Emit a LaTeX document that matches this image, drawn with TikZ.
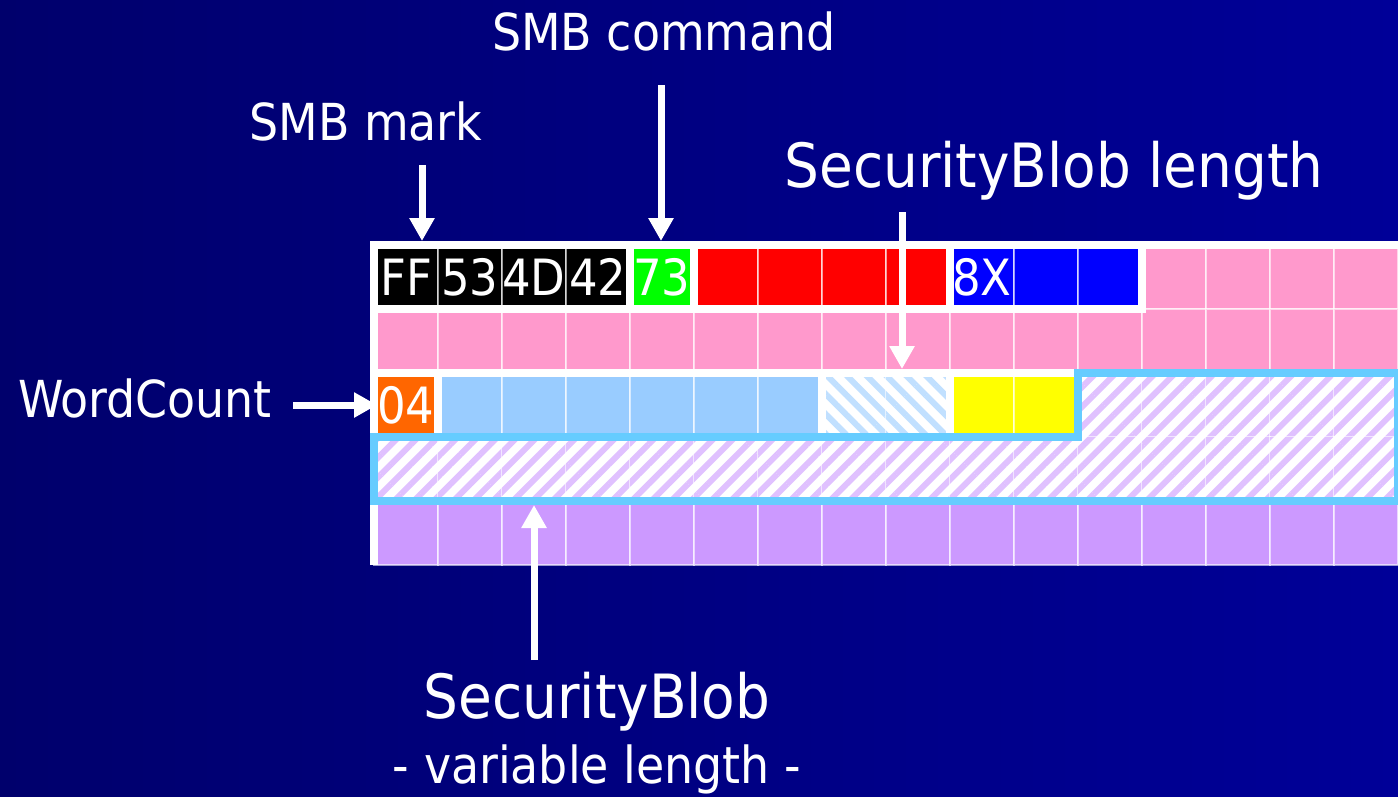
\documentclass[tikz,border=0pt]{standalone}
\usepackage{fontspec}
\IfFontExistsTF{DejaVu Sans Condensed}{\setmainfont{DejaVu Sans Condensed}}{\setmainfont{DejaVu Sans}[FakeStretch=0.9]}
\usetikzlibrary{positioning, arrows.meta, patterns.meta}

\definecolor{bgleft}{RGB}{0,0,108}
\definecolor{bgright}{RGB}{0,0,152}
\definecolor{cmdgreen}{RGB}{0,255,0}
\definecolor{fieldred}{RGB}{255,0,0}
\definecolor{fieldblue}{RGB}{0,0,255}
\definecolor{hdrpink}{RGB}{255,153,204}
\definecolor{wcorange}{RGB}{255,102,0}
\definecolor{paramblue}{RGB}{153,204,255}
\definecolor{paramyellow}{RGB}{255,255,0}
\definecolor{blobpurple}{RGB}{204,153,255}
\definecolor{blobedge}{RGB}{102,204,255}

\begin{document}
\begin{tikzpicture}[x=1pt, y=-1pt,
        cell/.style={draw=white, draw opacity=0.6, line width=1.2pt},
        hatchfwd/.style={fill=white, postaction={pattern={Lines[angle=45, distance=14pt, line width=6pt]}, pattern color=blobpurple}},
        hatchbwd/.style={fill=white, postaction={pattern={Lines[angle=-45, distance=14pt, line width=6pt]}, pattern color=paramblue}},
        field/.style={draw=white, line width=8pt},
        blobfield/.style={draw=blobedge, line width=8pt},
        hexbyte/.style={text=white, inner sep=0pt, font=\fontsize{50}{50}\selectfont},
        callout/.style={text=white, anchor=base, inner sep=0pt},
        pointer/.style={draw=white, line width=7pt, -{Triangle[length=23pt, width=24pt]}}
    ]
        \useasboundingbox (0,0) rectangle (1398,796);
        \clip (0,0) rectangle (1398,796);
        \shade[left color=bgleft, right color=bgright] (0,0) rectangle (1398,796);

        % packet cells, 16 per row
        \foreach \r/\from/\to/\kind in {0/0/3/black, 0/4/4/cmdgreen, 0/5/8/fieldred, 0/9/11/fieldblue,
                0/12/15/hdrpink, 1/0/15/hdrpink, 2/0/0/wcorange, 2/1/6/paramblue, 2/9/10/paramyellow, 4/0/15/blobpurple}
            \foreach \c in {\from,...,\to}
                \path[cell, fill=\kind] (374+64*\c, 245+64*\r) rectangle ++(64,64);
        \foreach \c in {7,8}
            \path[cell, hatchbwd] (374+64*\c, 373) rectangle ++(64,64);
        \foreach \c in {11,...,15}
            \path[cell, hatchfwd] (374+64*\c, 373) rectangle ++(64,64);
        \foreach \c in {0,...,15}
            \path[cell, hatchfwd] (374+64*\c, 437) rectangle ++(64,64);

        % field borders
        \foreach \a/\b/\r in {0/4/0, 4/5/0, 5/9/0, 9/12/0, 0/1/2, 1/7/2, 7/9/2, 9/11/2}
            \draw[field] (374+64*\a, 245+64*\r) rectangle (374+64*\b, 309+64*\r);
        \draw[field] (374,565) -- (374,245) -- (1402,245);
        \draw[blobfield] (1078,373) -- (1398,373) -- (1398,501) -- (374,501) -- (374,437) -- (1078,437) -- cycle;

        \node[hexbyte] (byteFF) at (406,277) {FF};
        \node[hexbyte] (byte53) at (470,277) {53};
        \node[hexbyte] (byte4D) at (534,277) {4D};
        \node[hexbyte] (byte42) at (598,277) {42};
        \node[hexbyte] (byte73) at (662,277) {73};
        \node[hexbyte] (byte8X) at (982,277) {8X};
        \node[hexbyte] (byte04) at (406,405) {04};

        \node[callout, font=\fontsize{51}{51}\selectfont] (cmdLabel) at (664,50) {SMB command};
        \node[callout, font=\fontsize{51}{51}\selectfont] (markLabel) at (366,140) {SMB mark};
        \node[callout, font=\fontsize{61}{61}\selectfont] (lenLabel) at (1054,187) {SecurityBlob length};
        \node[callout, font=\fontsize{51}{51}\selectfont] (wcLabel) at (145,417) {WordCount};
        \node[callout, font=\fontsize{61}{61}\selectfont] (blobLabel) at (597,718) {SecurityBlob};
        \node[callout, font=\fontsize{51}{51}\selectfont] (varLabel) at (597,783) {- variable length -};

        \coordinate (markTail) at (422,165);
        \coordinate (markTip) at (422,241);
        \coordinate (cmdTail) at (661,85);
        \coordinate (cmdTip) at (661,241);
        \coordinate (lenTail) at (902,212);
        \coordinate (lenTip) at (902,369);
        \coordinate (wcTail) at (293,405);
        \coordinate (wcTip) at (377,405);
        \coordinate (blobTail) at (534,660);
        \coordinate (blobTip) at (534,505);

        \draw[pointer] (markTail) -- (markTip);
        \draw[pointer] (cmdTail) -- (cmdTip);
        \draw[pointer] (lenTail) -- (lenTip);
        \draw[pointer] (wcTail) -- (wcTip);
        \draw[pointer] (blobTail) -- (blobTip);
    \end{tikzpicture}
\end{document}
